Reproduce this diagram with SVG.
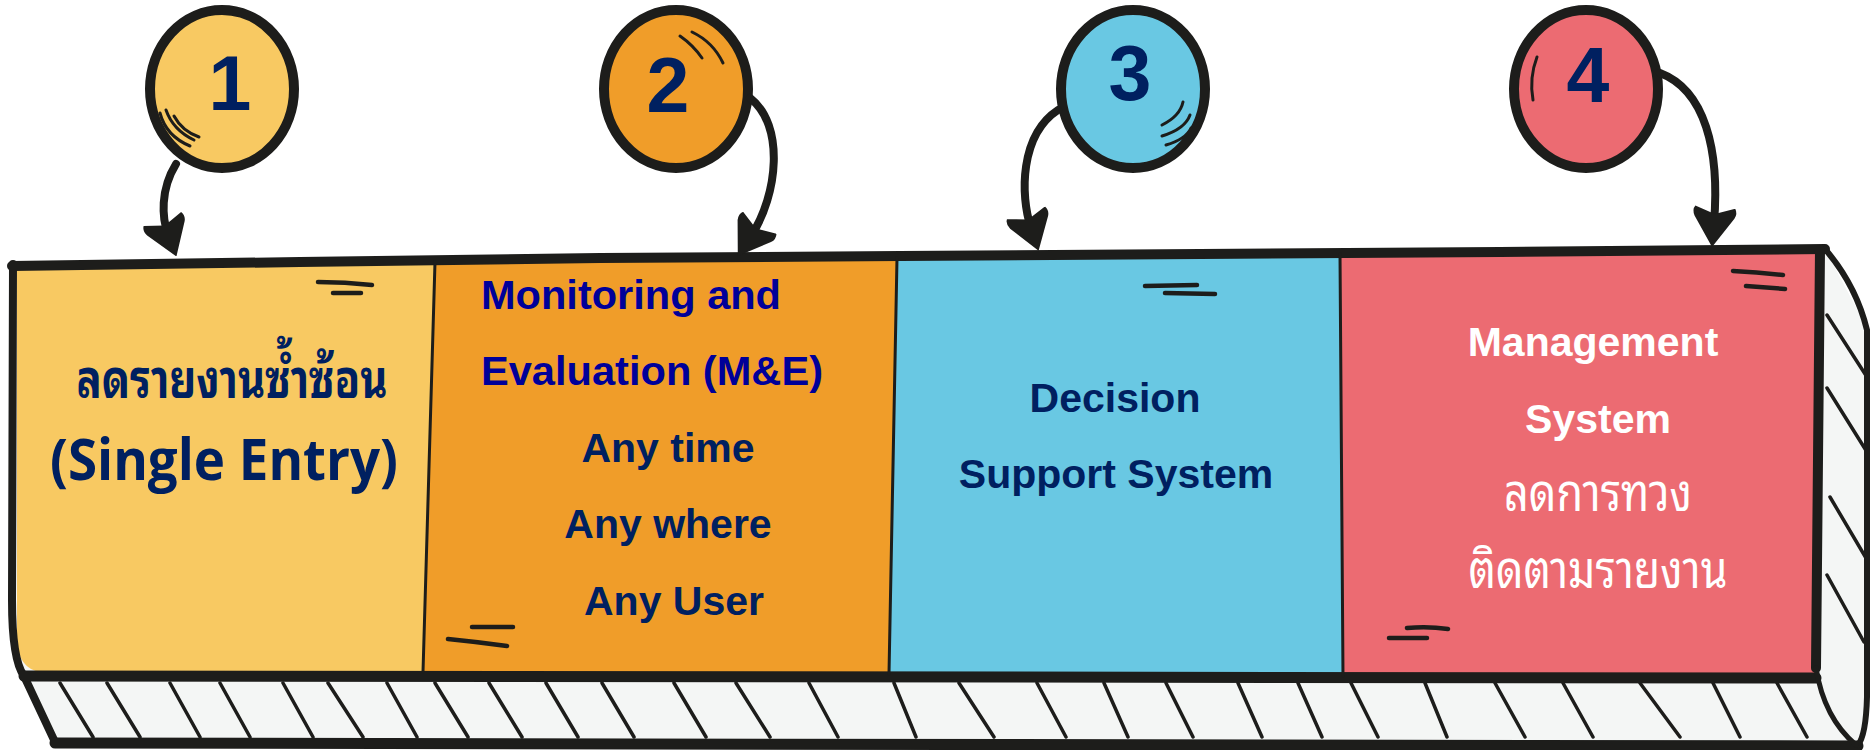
<svg xmlns="http://www.w3.org/2000/svg" width="1870" height="750" viewBox="0 0 1870 750">
<defs>
<style>
.ink{fill:none;stroke:#1d1d1b;stroke-linecap:round;stroke-linejoin:round}
.hatch{fill:none;stroke:#1d1d1b;stroke-width:3.5;stroke-linecap:round}
.mark{fill:none;stroke:#1d1d1b;stroke-width:4.5;stroke-linecap:round}
.shine{fill:none;stroke:#1d1d1b;stroke-width:3;stroke-linecap:round}
.bubble{stroke:#1d1d1b;stroke-width:10}
.num{font-family:"Liberation Sans",Arial,sans-serif;font-weight:bold;font-size:77px;fill:#002060;text-anchor:middle}
.en{font-family:"Liberation Sans",Arial,sans-serif;font-weight:bold;font-size:41px}
.th{font-family:"Noto Sans Thai Looped","Noto Serif Thai","Noto Sans Thai","Loma","Garuda","Noto Sans",sans-serif}
.navy{fill:#002060}
.blue{fill:#000099}
.white{fill:#ffffff}
.mid{text-anchor:middle}
.conn{fill:none;stroke:#1d1d1b;stroke-width:8;stroke-linecap:round}
</style>
<marker id="head" viewBox="0 0 40 46" refX="16" refY="23" markerWidth="40" markerHeight="46" markerUnits="userSpaceOnUse" orient="auto">
<path d="M0,3 Q5,0 10,3 L40,23 L10,43 Q4,46 0,43 L7,23 Z" fill="#1d1d1b"/>
</marker>
</defs>
<rect width="1870" height="750" fill="#ffffff"/>

<g id="bar">
<path d="M12,266 L1825,249 L1868,330 L1868,697 Q1866,735 1858,745 L55,743 L23,676 Q12,655 12,600 Z" fill="#f4f6f5"/>
</g>

<g id="panel-1">
<path d="M17,268 L435,262 L423,672 L40,672 Q18,668 17,640 Z" fill="#f8c962"/>
<text class="th navy mid" x="232" y="398" font-size="54" font-weight="bold" textLength="311" lengthAdjust="spacingAndGlyphs">ลดรายงานซ้ำซ้อน</text>
<text class="navy mid" x="224" y="480" font-family="'Open Sans','Noto Sans',sans-serif" font-weight="bold" font-size="58" textLength="348" lengthAdjust="spacingAndGlyphs">(Single Entry)</text>
<path class="mark" d="M318,282 Q345,282 372,285 M333,293 L361,293"/>
</g>

<g id="panel-2">
<path d="M435,262 L897,258 L889,674 L423,672 Z" fill="#f09d29"/>
<text class="en blue" x="481" y="309" textLength="300" lengthAdjust="spacingAndGlyphs">Monitoring and</text>
<text class="en blue" x="481" y="385" textLength="342" lengthAdjust="spacingAndGlyphs">Evaluation (M&amp;E)</text>
<text class="en navy mid" x="668" y="462">Any time</text>
<text class="en navy mid" x="668" y="538">Any where</text>
<text class="en navy mid" x="674" y="615">Any User</text>
<path class="mark" d="M472,627 L513,627 M448,639 Q478,642 507,646"/>
</g>

<g id="panel-3">
<path d="M897,258 L1340,254 L1343,676 L889,674 Z" fill="#69c8e3"/>
<text class="en navy mid" x="1115" y="412">Decision</text>
<text class="en navy mid" x="1116" y="488">Support System</text>
<path class="mark" d="M1145,286 L1197,285 M1165,293 L1215,294"/>
</g>

<g id="panel-4">
<path d="M1340,254 L1820,250 L1815,678 L1343,676 Z" fill="#ec6b72"/>
<text class="en white mid" x="1593" y="356">Management</text>
<text class="en white mid" x="1598" y="433">System</text>
<text class="th white mid" x="1598" y="511" font-size="52" textLength="188" lengthAdjust="spacingAndGlyphs">ลดการทวง</text>
<text class="th white mid" x="1598" y="588" font-size="52" textLength="259" lengthAdjust="spacingAndGlyphs">ติดตามรายงาน</text>
<path class="mark" d="M1733,271 Q1758,272 1783,275 M1746,286 L1785,289 M1407,628 Q1428,626 1448,629 M1389,638 L1427,638"/>
</g>

<g id="bar-lines">
<g id="hatching">
<path class="hatch" d="M60,683 L93,737 M107,683 L140,737 M170,683 L200,737 M220,683 L250,737 M283,683 L313,737 M328,683 L363,737 M387,683 L417,737 M435,683 L468,737 M489,683 L522,737 M546,683 L578,737 M602,683 L634,737 M674,683 L706,737 M736,683 L770,737 M809,683 L838,737 M894,683 L916,737 M959,683 L994,737 M1037,683 L1066,737 M1104,683 L1128,737 M1166,683 L1193,737 M1238,683 L1262,737 M1298,683 L1322,737 M1351,683 L1378,737 M1425,683 L1447,737 M1495,683 L1525,737 M1563,683 L1593,737 M1640,683 L1680,737 M1713,683 L1740,737 M1777,683 L1807,737"/>
<path class="hatch" d="M1827,315 L1867,377 M1827,388 L1867,452 M1830,497 L1866,558 M1827,575 L1864,642"/>
</g>
<path class="ink" stroke-width="8" d="M13,264 L12,600 Q12,660 24,676 L55,742"/>
<path class="ink" stroke-width="10" d="M12,266 L300,262 L600,258 L900,256 L1200,254 L1500,252 L1825,249"/>
<path class="ink" stroke-width="11" d="M24,676 L1816,678"/>
<path class="ink" stroke-width="11" d="M55,743 L1858,746"/>
<path class="ink" stroke-width="6" d="M1825,249 Q1856,285 1867,330 L1867,697 Q1866,735 1858,745"/>
<path class="ink" stroke-width="10" d="M1820,250 L1816,668"/>
<path class="ink" stroke-width="5" d="M1816,668 Q1824,718 1856,745"/>
<path class="ink" stroke-width="3" d="M435,262 L423,672 M897,258 L889,674 M1340,254 L1343,676"/>
</g>

<g id="node-1">
<ellipse class="bubble" cx="222" cy="89" rx="72" ry="79" fill="#f8c962"/>
<path class="shine" d="M160,113 Q166,136 190,146 M166,110 Q173,130 194,140 M174,116 Q182,131 199,137"/>
<text class="num" x="230" y="110">1</text>
</g>
<g id="node-2">
<ellipse class="bubble" cx="676" cy="89" rx="72" ry="79" fill="#f09d29"/>
<path class="shine" d="M680,36 Q693,45 702,58 M692,32 Q713,42 723,63"/>
<text class="num" x="668" y="112">2</text>
</g>
<g id="node-3">
<ellipse class="bubble" cx="1133" cy="89" rx="72" ry="79" fill="#69c8e3"/>
<path class="shine" d="M1183,102 Q1180,116 1162,125 M1190,115 Q1185,129 1162,136 M1191,128 Q1186,139 1166,145"/>
<text class="num" x="1130" y="100">3</text>
</g>
<g id="node-4">
<ellipse class="bubble" cx="1586" cy="89" rx="72" ry="79" fill="#ec6b72"/>
<path class="shine" d="M1537,57 Q1529,78 1533,100"/>
<text class="num" x="1588" y="102">4</text>
</g>

<g id="connectors">
<path class="conn" marker-end="url(#head)" d="M176,164 C160,190 162,218 168,234"/>
<path class="conn" marker-end="url(#head)" d="M750,98 C785,125 778,195 751,236"/>
<path class="conn" marker-end="url(#head)" d="M1058,110 C1020,135 1020,195 1031,228"/>
<path class="conn" marker-end="url(#head)" d="M1660,73 C1705,90 1720,150 1714,223"/>
</g>
</svg>
